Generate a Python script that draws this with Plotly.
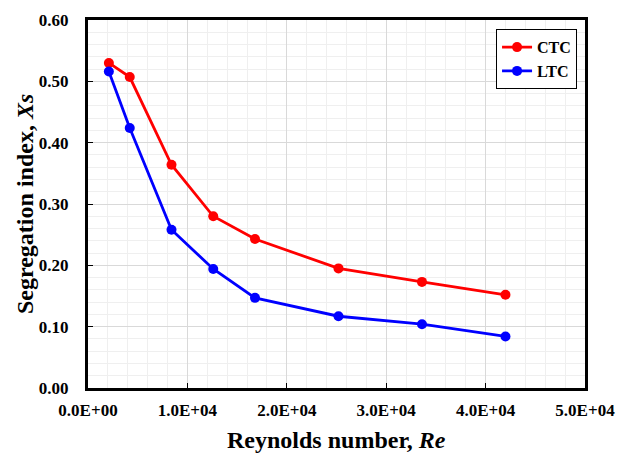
import plotly.graph_objects as go

reynolds = [2100, 4200, 8400, 12600, 16800, 25200, 33600, 42000]
ctc = [0.530, 0.507, 0.364, 0.280, 0.243, 0.195, 0.173, 0.152]
ltc = [0.516, 0.424, 0.258, 0.194, 0.147, 0.117, 0.104, 0.084]
x_ticks = [0, 10000, 20000, 30000, 40000, 50000]
x_labels = ["0.0E+00", "1.0E+04", "2.0E+04", "3.0E+04", "4.0E+04", "5.0E+04"]
y_ticks = [0.0, 0.1, 0.2, 0.3, 0.4, 0.5, 0.6]
y_labels = ["0.00", "0.10", "0.20", "0.30", "0.40", "0.50", "0.60"]

FONT = "Liberation Serif"

fig = go.Figure()
fig.add_trace(go.Scatter(x=reynolds, y=ctc, mode="lines+markers", name="<b>CTC</b>",
                         line=dict(color="#ff0000", width=2.8),
                         marker=dict(color="#ff0000", size=10)))
fig.add_trace(go.Scatter(x=reynolds, y=ltc, mode="lines+markers", name="<b>LTC</b>",
                         line=dict(color="#0000ff", width=2.8),
                         marker=dict(color="#0000ff", size=10)))

axis_common = dict(showline=True, linecolor="black", linewidth=3, mirror=True,
                   showgrid=True, gridcolor="#d9d9d9", gridwidth=1,
                   ticks="inside", ticklen=5, tickcolor="black", tickwidth=1,
                   zeroline=False, automargin=False,
                   tickfont=dict(family=FONT, size=17, color="black"))

fig.update_xaxes(range=[0, 50000], tickvals=x_ticks,
                 ticktext=["<b>%s</b>" % t for t in x_labels],
                 minor=dict(dtick=2000, showgrid=True, gridcolor="#efefef", gridwidth=1),
                 ticklabelstandoff=5,
                 **axis_common)
fig.update_yaxes(range=[0, 0.6], tickvals=y_ticks,
                 ticktext=["<b>%s</b>" % t for t in y_labels],
                 minor=dict(dtick=0.02, showgrid=True, gridcolor="#efefef", gridwidth=1),
                 ticklabelstandoff=13,
                 **axis_common)

fig.update_layout(
    width=618, height=454,
    margin=dict(l=88, r=33, t=20, b=66),
    plot_bgcolor="white", paper_bgcolor="white",
    showlegend=True,
    legend=dict(x=0.984, y=0.975, xanchor="right", yanchor="top",
                bgcolor="white", bordercolor="black", borderwidth=1,
                font=dict(family=FONT, size=16, color="black"),
                itemwidth=30, tracegroupgap=0),
    annotations=[
        dict(text="<b>Reynolds number, <i>Re</i></b>", xref="paper", yref="paper",
             x=0.5, y=0, xanchor="center", yanchor="middle",
             yshift=-52, showarrow=False,
             font=dict(family=FONT, size=24, color="black")),
        dict(text="<b>Segregation index, <i>Xs</i></b>", xref="paper", yref="paper",
             x=0, y=0.5, xanchor="center", yanchor="middle", xshift=-63,
             textangle=-90, showarrow=False,
             font=dict(family=FONT, size=24, color="black")),
    ],
)

fig.write_html("out.html",
               config={"displayModeBar": False},
               post_script="document.body.style.margin='0';document.body.style.overflow='hidden';")
